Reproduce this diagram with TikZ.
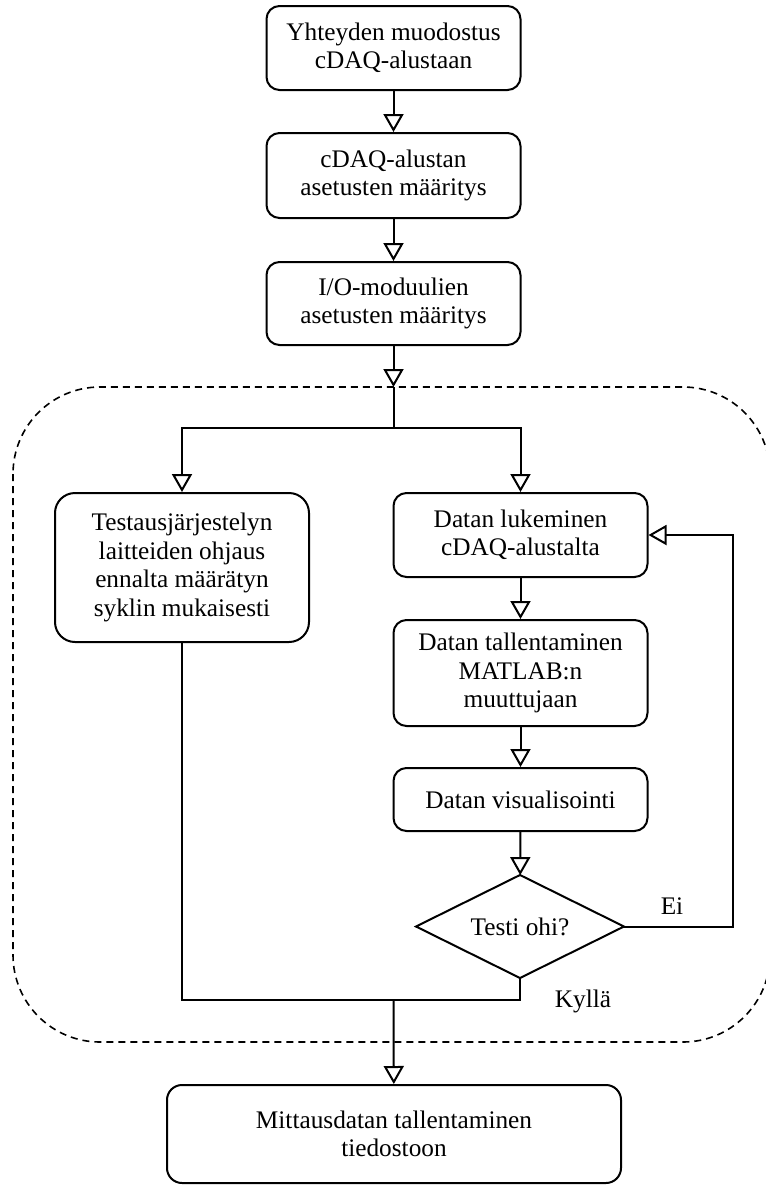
\documentclass[tikz,border=0pt]{standalone}
\usepackage{fontspec}
\setmainfont{Liberation Serif}
\usetikzlibrary{arrows.meta,shapes.geometric}
\newcommand\myfs{\fontsize{25.3}{28.5}\selectfont}
\tikzset{
  box/.style={draw, line width=2pt, rounded corners=13pt, align=center, font=\myfs, inner sep=0pt, minimum width=254pt},
  conn/.style={line width=2pt},
  arr/.style={conn, -{Triangle[open,length=18pt,width=20pt,line width=2pt]}},
  lbl/.style={font=\myfs, inner sep=0pt},
  cont/.style={line width=1.6pt, dash pattern=on 7pt off 5pt, rounded corners=87pt}
}
\begin{document}
\begin{tikzpicture}[x=1pt,y=-1pt]
\useasboundingbox (0,0) rectangle (766,1187);
\draw[cont] (13,387) rectangle (770,1042);

\node[box, minimum height=84pt] (b1) at (393.5,48) {Yhteyden muodostus\\cDAQ-alustaan};
\node[box, minimum height=85pt] (b2) at (393.5,175.5) {cDAQ-alustan\\asetusten määritys};
\node[box, minimum height=83pt] (b3) at (393.5,303.5) {I/O-moduulien\\asetusten määritys};
\node[box, rounded corners=20pt, minimum height=149pt] (lb) at (182,567.5) {Testausjärjestelyn\\laitteiden ohjaus\\ennalta määrätyn\\syklin mukaisesti};
\node[box, minimum height=84pt] (a) at (520.5,535) {Datan lukeminen\\cDAQ-alustalta};
\node[box, minimum height=106pt] (bb) at (520.5,673) {Datan tallentaminen\\MATLAB:n\\muuttujaan};
\node[box, minimum height=63pt] (c) at (520.5,799.5) {Datan visualisointi};
\node[draw, line width=2pt, diamond, aspect=2.04, minimum width=208pt, minimum height=103pt, inner sep=0pt, outer sep=0pt, font=\myfs] (d) at (520,926.5) {Testi ohi?};
\node[box, rounded corners=15pt, minimum width=454pt, minimum height=98pt] (bot) at (394,1134) {Mittausdatan tallentaminen\\tiedostoon};

\node[lbl] (ei) at (672,906) {Ei};
\node[lbl] (ky) at (583,1001) {Kyllä};

\coordinate (split) at (393.5,387);
\coordinate (j) at (393.5,428);
\coordinate (fr) at (733,926.5);
\coordinate (m) at (393.5,1000);
\coordinate (mr) at (520,1000);

\draw[arr] (b1) -- (b2);
\draw[arr] (b2) -- (b3);
\draw[arr] (b3) -- (split);
\draw[conn] (split) -- (j);
\draw[arr] (j) -| (lb);
\draw[arr] (j) -| (a);
\draw[arr] (a) -- (bb);
\draw[arr] (bb) -- (c);
\draw[arr] (c) -- (d);
\draw[arr] (d.east) -- (fr) |- (a.east);
\draw[conn] (lb.south) |- (mr) -- (d.south);
\draw[arr] (m) -- (bot);
\end{tikzpicture}
\end{document}
